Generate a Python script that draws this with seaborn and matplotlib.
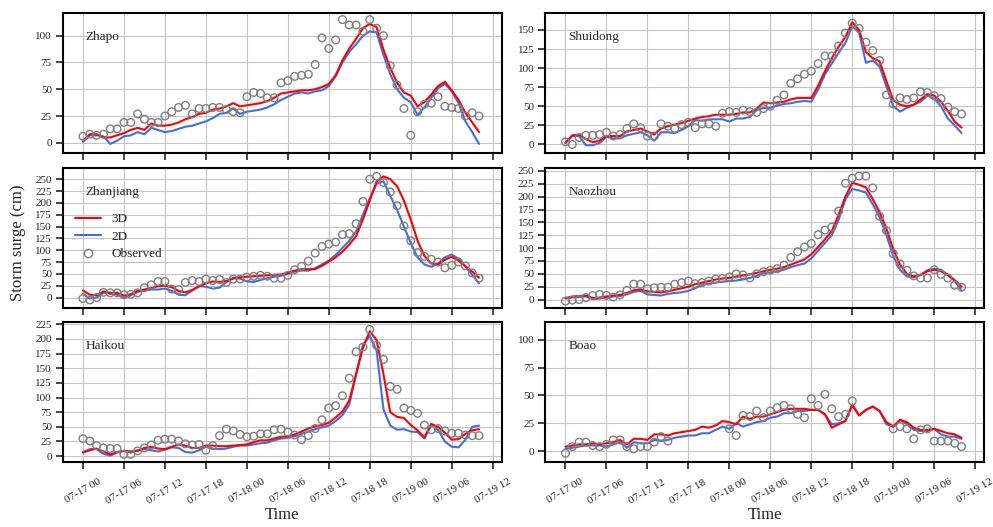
import numpy as np
import pandas as pd
import matplotlib
matplotlib.use('Agg')
import matplotlib.pyplot as plt
import matplotlib.dates as mdates
from matplotlib.ticker import MultipleLocator
from matplotlib.lines import Line2D
import seaborn as sns

nan = np.nan

# hourly series from 07-17 00 to 07-19 10
tempo = pd.date_range('2018-07-17 00:00', periods=59, freq='h')

estacoes = ['Zhapo', 'Shuidong', 'Zhanjiang', 'Naozhou', 'Haikou', 'Boao']

zhapo_obs = [6, 8, 7, 8, 13, 13, 19, 19, 27, 22, 19, 19, 25, 29, 33, 35, 27, 32, 32, 33,
             33, 31, 29, 28, 43, 47, 46, 42, 42, 56, 58, 62, 63, 64, 73, 98, 88, 96, 115, 110,
             110, 104, 115, 107, 100, 72, 54, 32, 7, 29, 36, 37, 43, 34, 33, 32, 25, 28, 25]
zhapo_3d = [2, 8, 8, 5, 5, 7, 9, 12, 14, 12, 18, 16, 16, 17, 19, 22, 24, 27, 28, 31,
            32, 34, 37, 34, 35, 36, 37, 39, 42, 46, 47, 48, 49, 49, 50, 52, 55, 63, 77, 88,
            97, 107, 111, 108, 87, 70, 56, 47, 44, 34, 38, 45, 53, 57, 49, 40, 28, 19, 10]
zhapo_2d = [1, 7, 7, 6, -1, 2, 6, 7, 10, 8, 14, 12, 10, 11, 13, 15, 16, 18, 20, 23,
            27, 28, 32, 27, 29, 30, 31, 33, 36, 40, 43, 46, 47, 46, 48, 49, 53, 62, 75, 85,
            92, 100, 104, 103, 82, 64, 50, 42, 38, 26, 33, 42, 51, 55, 48, 37, 20, 10, -1]

shuidong_obs = [3.5, 0, 9, 12, 12, 13, 16, 11, 13, 21, 27, 22, 11, 11, 27, 24, 21, 26, 29, 22,
                27, 27, 24, 41, 43, 42, 45, 43, 42, 47, 50, 58, 65, 80, 86, 92, 96, 106, 116, 116,
                129, 146, 159, 152, 134, 123, 110, 65, 53, 61, 59, 61, 69, 68, 64, 60, 49, 43, 40]
shuidong_3d = [2, 12, 13, 7, 3, 5, 11, 11, 11, 17, 19, 21, 17, 13, 21, 24, 26, 28, 31, 34,
               36, 37, 39, 39, 39, 40, 42, 42, 47, 55, 54, 55, 56, 59, 61, 61, 61, 77, 96, 113,
               128, 141, 160, 150, 121, 113, 109, 83, 58, 52, 50, 52, 59, 66, 64, 56, 44, 30, 22]
shuidong_2d = [2, 11, 11, -1, -1, 2, 10, 8, 8, 12, 14, 16, 12, 5, 16, 16, 15, 19, 24, 32,
               31, 33, 33, 33, 30, 34, 34, 36, 45, 48, 48, 51, 53, 54, 56, 57, 56, 72, 92, 106,
               120, 133, 155, 147, 107, 110, 102, 76, 50, 43, 48, 52, 56, 64, 60, 50, 34, 25, 15]

zhanjiang_obs = [-2, -5, 0, 11, 10, 10, 6, 7, 10, 21, 27, 34, 34, 18, 17, 32, 36, 34, 39, 36,
                 38, 32, 39, 39, 43, 45, 47, 45, 41, 41, 47, 59, 66, 77, 94, 108, 113, 117, 133, 135,
                 156, 203, 250, 256, 243, 223, 194, 151, 120, 95, 87, 81, 75, 63, 68, 75, 67, 52, 41]
zhanjiang_3d = [15, 6, 5, 13, 8, 10, 4, 7, 14, 17, 20, 24, 25, 22, 14, 11, 16, 24, 30, 34,
                33, 35, 40, 43, 44, 45, 46, 47, 48, 49, 52, 57, 60, 60, 60, 67, 76, 85, 97, 112,
                130, 165, 205, 245, 256, 250, 235, 205, 165, 120, 88, 72, 70, 80, 86, 78, 66, 55, 42]
zhanjiang_2d = [8, -2, 0, 10, 11, 6, -1, 5, 12, 15, 17, 17, 19, 14, 6, 5, 15, 24, 23, 19,
                21, 33, 42, 40, 34, 33, 37, 41, 44, 46, 50, 55, 57, 57, 62, 70, 78, 90, 105, 120,
                140, 175, 210, 240, 246, 215, 185, 150, 115, 85, 70, 65, 72, 85, 91, 82, 66, 48, 30]

naozhou_obs = [-3, -1, 0, 4, 8, 10, 8, 5, 9, 18, 30, 30, 21, 23, 24, 24, 30, 33, 36, 31,
               33, 36, 40, 41, 44, 50, 48, 42, 50, 54, 57, 60, 67, 82, 93, 102, 109, 126, 135, 141,
               172, 226, 236, 240, 240, 217, 162, 134, 89, 69, 57, 46, 42, 42, 58, 49, 42, 28, 24]
naozhou_3d = [3, 6, 7, 8, 3, 4, 6, 8, 9, 13, 18, 20, 16, 15, 14, 16, 19, 22, 25, 30,
              33, 36, 39, 41, 42, 45, 47, 49, 52, 55, 58, 60, 63, 68, 73, 78, 88, 102, 117, 133,
              165, 200, 227, 223, 218, 195, 170, 138, 98, 68, 50, 45, 48, 55, 58, 55, 48, 38, 25]
naozhou_2d = [2, 4, 5, 6, 1, 2, 4, 6, 7, 10, 15, 17, 10, 9, 8, 11, 13, 14, 17, 22,
              29, 31, 33, 35, 36, 37, 39, 42, 46, 51, 53, 55, 58, 63, 67, 70, 80, 95, 110, 125,
              155, 195, 215, 212, 208, 185, 160, 125, 85, 58, 45, 43, 48, 57, 60, 58, 48, 36, 18]

haikou_obs = [30, 26, 18, 14, 13, 13, 3, 3, 9, 14, 19, 27, 29, 29, 26, 21, 19, 20, 10, 18,
              35, 46, 43, 37, 33, 34, 38, 38, 45, 46, 41, 36, 28, 35, 47, 62, 82, 86, 103, 133,
              178, 186, 216, 189, 165, 119, 114, 82, 78, 73, 53, 45, 47, 43, 39, 39, 36, 35, 35]
haikou_3d = [6, 10, 13, 8, 3, 7, 9, 8, 9, 14, 16, 13, 12, 16, 20, 18, 14, 14, 18, 18,
             17, 17, 18, 19, 20, 24, 27, 27, 30, 33, 34, 37, 42, 47, 51, 53, 57, 66, 76, 95,
             140, 185, 213, 198, 140, 75, 67, 65, 53, 44, 32, 55, 50, 40, 28, 29, 38, 44, 46]
haikou_2d = [7, 12, 12, 4, 1, 6, 9, 6, 10, 12, 10, 8, 11, 15, 14, 7, 6, 10, 16, 13,
             12, 13, 16, 18, 18, 20, 22, 23, 27, 30, 31, 34, 38, 42, 46, 49, 52, 60, 70, 88,
             140, 190, 205, 180, 80, 52, 45, 46, 42, 41, 30, 53, 45, 25, 16, 15, 28, 50, 52]

boao_obs = [-2, 4, 8, 8, 5, 4, 6, 10, 10, 4, 2, 4, 4, 8, 13, 9, nan, nan, nan, nan,
            nan, nan, nan, nan, 20, 14, 32, 31, 36, 30, 36, 39, 41, 38, 33, 30, 47, 41, 51, 38,
            31, 33, 45, nan, nan, nan, nan, nan, 20, 22, 20, 11, 19, 20, 9, 9, 9, 7, 4]
boao_3d = [4, 5, 6, 6, 7, 6, 7, 8, 10, 6, 11, 11, 10, 15, 15, 14, 16, 17, 18, 19,
           22, 21, 23, 27, 26, 24, 31, 29, 31, 31, 33, 35, 37, 38, 38, 38, 37, 37, 33, 21,
           24, 27, 42, 32, 37, 40, 36, 26, 22, 28, 26, 21, 19, 19, 20, 18, 16, 15, 12]
boao_2d = [2, 3, 4, 5, 5, 5, 4, 6, 8, 3, 8, 7, 7, 10, 9, 10, 12, 13, 14, 14,
           16, 16, 19, 22, 20, 25, 22, 24, 26, 27, 30, 31, 34, 34, 36, 36, 37, 37, 33, 24,
           25, 27, 41, 32, 37, 40, 36, 24, 22, 28, 24, 19, 18, 18, 20, 15, 13, 13, 11]

observado = [zhapo_obs, shuidong_obs, zhanjiang_obs, naozhou_obs, haikou_obs, boao_obs]
modelo_3d = [zhapo_3d, shuidong_3d, zhanjiang_3d, naozhou_3d, haikou_3d, boao_3d]
modelo_2d = [zhapo_2d, shuidong_2d, zhanjiang_2d, naozhou_2d, haikou_2d, boao_2d]
limites_y = [(-9.4, 121), (-11, 172), (-21, 274), (-15.4, 256), (-10.3, 228), (-10, 115.6)]

sns.set_style('ticks')
plt.rcParams['font.family'] = ['Liberation Serif', 'DejaVu Serif']

fig, axes = plt.subplots(3, 2, figsize=(9.93, 5.27), dpi=100, sharex=True)
fig.subplots_adjust(left=0.0634, right=0.991, top=0.975, bottom=0.123, wspace=0.10, hspace=0.107)

inicio = tempo[0]
for i, ax in enumerate(axes.flat):
    sns.lineplot(x=tempo, y=modelo_3d[i], color='#ff0000', lw=1.5, ax=ax, zorder=3)
    sns.lineplot(x=tempo, y=modelo_2d[i], color='#3f6fe0', lw=1.5, ax=ax, zorder=2)
    sns.scatterplot(x=tempo, y=observado[i], ax=ax, marker='o', s=30,
                    facecolors='none', edgecolors='#808080', linewidths=1.0, zorder=4)
    ax.set_ylim(*limites_y[i])
    ax.yaxis.set_major_locator(MultipleLocator(25))
    ax.grid(True, color='#c4c4c4', lw=0.8)
    ax.set_axisbelow(True)
    for s in ax.spines.values():
        s.set_linewidth(1.5)
        s.set_color('black')
    ax.tick_params(direction='out', length=5, width=1.2, labelsize=8, pad=3)
    ax.tick_params(axis='x', pad=6)
    ax.text(0.052, 0.83, estacoes[i], transform=ax.transAxes, fontsize=9.5, va='center')
    ax.set_ylabel('')
    ax.set_xlabel('')

ax = axes[0, 0]
ax.set_xlim(inicio - pd.Timedelta(hours=2.93), inicio + pd.Timedelta(hours=61.3))
ax.xaxis.set_major_locator(mdates.HourLocator(byhour=[0, 6, 12, 18]))
ax.xaxis.set_major_formatter(mdates.DateFormatter('%m-%d %H'))

for ax in axes[2]:
    plt.setp(ax.get_xticklabels(), rotation=30, ha='center')
    ax.set_xlabel('Time', fontsize=12, labelpad=1)

# legenda no painel de Zhanjiang
handles = [Line2D([], [], color='#ff0000', lw=1.5),
           Line2D([], [], color='#3f6fe0', lw=1.5),
           Line2D([], [], ls='', marker='o', markersize=6, markerfacecolor='none',
                  markeredgecolor='#808080')]
axes[1, 0].legend(handles, ['3D', '2D', 'Observed'], loc='upper left',
                  bbox_to_anchor=(0.0, 0.76), frameon=False, fontsize=9.5, labelspacing=0.4)

fig.text(0.018, 0.54, 'Storm surge (cm)', rotation=90, va='center', ha='center', fontsize=12)

plt.savefig('out.png', dpi=100)
